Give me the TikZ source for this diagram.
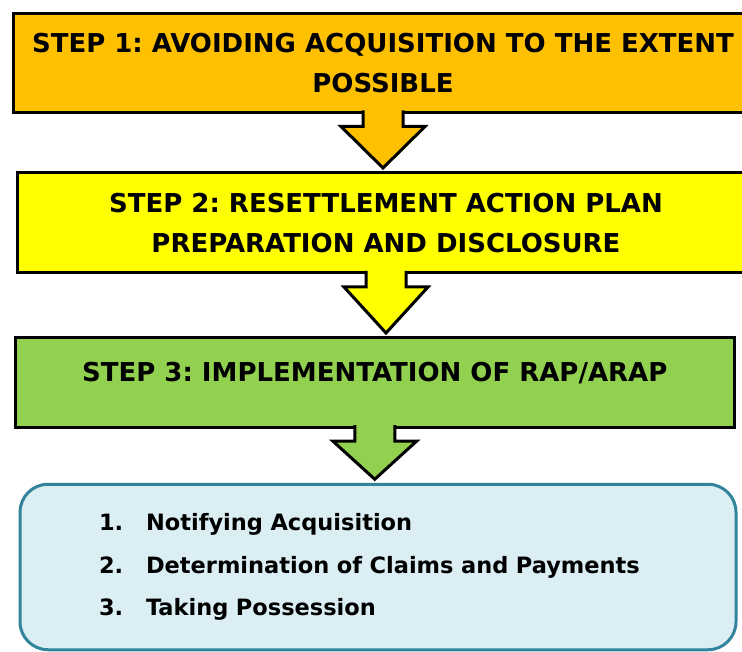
\documentclass[tikz,border=0pt]{standalone}
\usepackage{fontspec}
\setmainfont{DejaVu Sans}
\usetikzlibrary{calc}
\frenchspacing
\definecolor{stepone}{HTML}{FFC000}
\definecolor{steptwo}{HTML}{FFFF00}
\definecolor{stepthree}{HTML}{92D050}
\definecolor{listfill}{HTML}{DAEEF3}
\definecolor{listline}{HTML}{31849B}
\tikzset{
  stepbox/.style={draw, line width=3pt, outer sep=0pt, inner sep=0pt, align=center,
    font=\bfseries\fontsize{26}{40}\selectfont},
  listbox/.style={draw=listline, fill=listfill, line width=3pt, rounded corners=28pt,
    outer sep=0pt, inner ysep=0pt, align=left, font=\bfseries\fontsize{22.5}{42.5}\selectfont},
  arrowline/.style={draw=black, line width=3pt}
}
\begin{document}
\begin{tikzpicture}[x=1pt, y=-1pt]
        \useasboundingbox (0,0) rectangle (742,652);
        \clip (0,0) rectangle (742,652);
        \node[stepbox, fill=stepone, minimum width=739pt, minimum height=99pt] (s1) at (383,63) {STEP 1: AVOIDING ACQUISITION TO THE EXTENT\\POSSIBLE};
        \node[stepbox, fill=steptwo, minimum width=738pt, minimum height=100pt] (s2) at (386,223) {STEP 2: RESETTLEMENT ACTION PLAN\\PREPARATION AND DISCLOSURE};
        \node[stepbox, fill=stepthree, minimum width=719.5pt, minimum height=89pt, text depth=21pt] (s3) at (374.75,382.5) {STEP 3: IMPLEMENTATION OF RAP/ARAP};
        \node[listbox, minimum width=716pt, minimum height=165.5pt, text width=558pt, inner xsep=79pt] (s4) at (378,567) {\makebox[47pt][l]{1.}Notifying Acquisition\\\makebox[47pt][l]{2.}Determination of Claims and Payments\\\makebox[47pt][l]{3.}Taking Possession};
        \foreach \a/\b/\c in {s1/s2/stepone, s2/s3/steptwo, s3/s4/stepthree}{
        \draw[arrowline, fill=\c] let \p1=(\a.south), \p2=(\b.north) in
          (\x1-20pt,\y1+2pt) -- (\x1-20pt,\y1-14pt) -- (\x1-42pt,\y1-14pt) -- (\x1,\y2+5pt)
          -- (\x1+42pt,\y1-14pt) -- (\x1+20pt,\y1-14pt) -- (\x1+20pt,\y1+2pt);
        }
\end{tikzpicture}
\end{document}
